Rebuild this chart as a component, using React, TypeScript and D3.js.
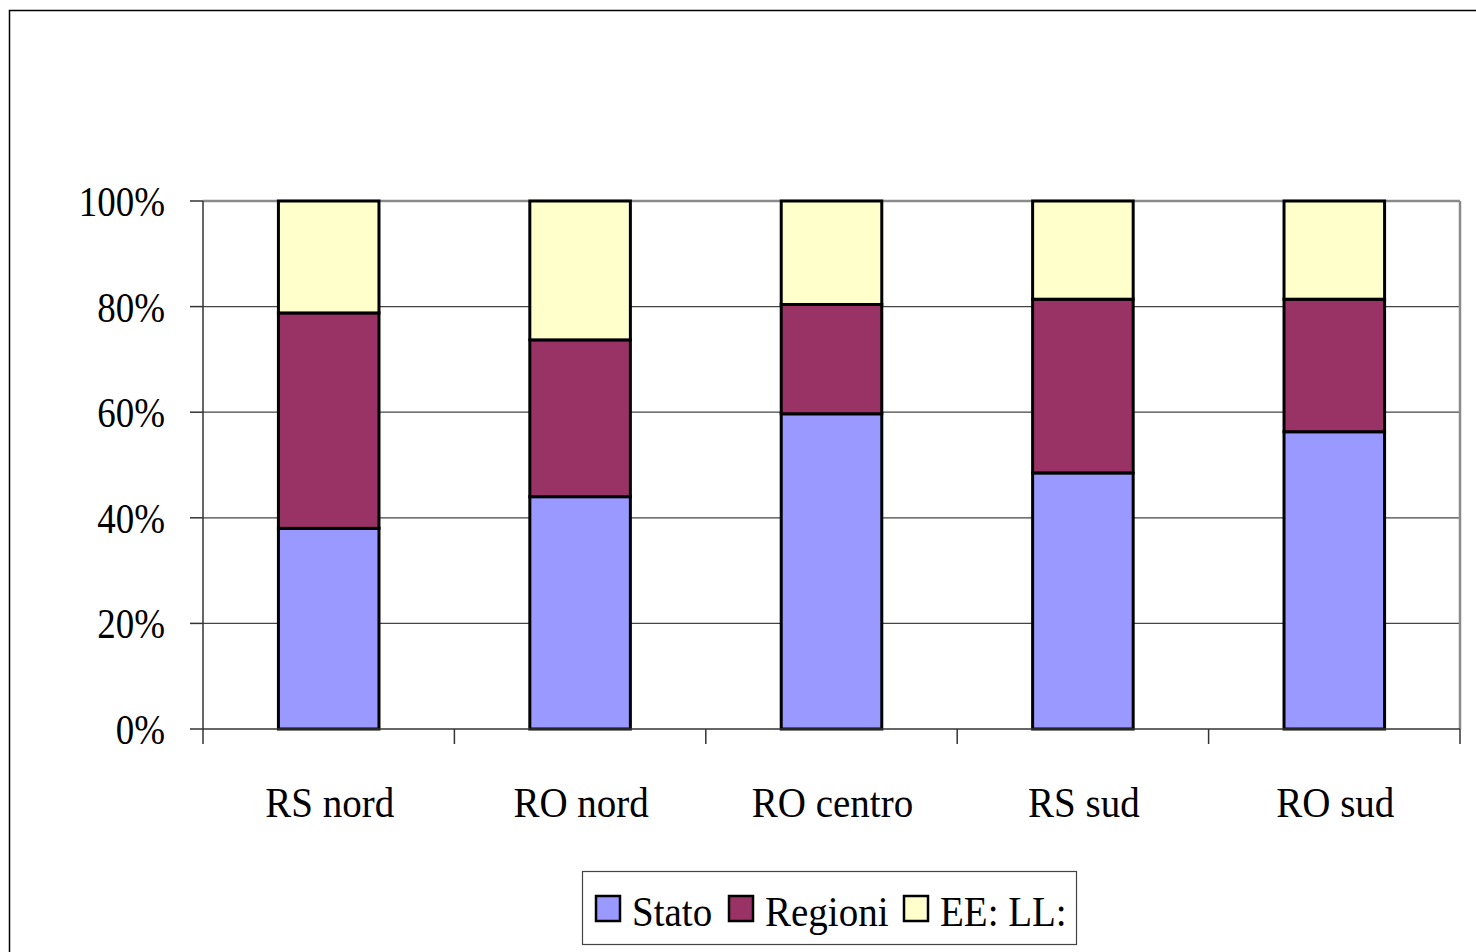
import * as d3 from "d3";

const categories = ["RS nord", "RO nord", "RO centro", "RS sud", "RO sud"];
const seriesNames = ["Stato", "Regioni", "EE: LL:"];
const stato = [38.0, 44.0, 59.7, 48.5, 56.3];
const regioni = [40.8, 29.7, 20.7, 32.9, 25.1];
const eell = [21.2, 26.3, 19.6, 18.6, 18.6];
const yTicks = [0, 20, 40, 60, 80, 100];
const colors = ["#9999FF", "#993366", "#FFFFCC"];

const W = 1476;
const H = 952;
const plot = { left: 203, right: 1460, top: 201, bottom: 729 };
const font = "'Liberation Serif', 'Times New Roman', serif";
const sy = 1.08; // text in the original is a bit stretched vertically

export default function App() {
  const rows = categories.map((c, i) => ({
    cat: c,
    Stato: stato[i],
    Regioni: regioni[i],
    "EE: LL:": eell[i],
  }));
  const stack = d3.stack<any>().keys(seriesNames)(rows);

  const x = d3
    .scaleBand()
    .domain(categories)
    .range([plot.left, plot.right])
    .paddingInner(0.6)
    .paddingOuter(0.3);
  const y = d3.scaleLinear().domain([0, 100]).range([plot.bottom, plot.top]);
  const step = x.step();
  const xTickPos = d3.range(categories.length + 1).map((i) => plot.left + i * step);

  return (
    <svg
      width={W}
      height={H}
      style={{ position: "absolute", left: 0, top: 0, background: "#fff" }}
    >
      <rect x={9.5} y={10.5} width={1480} height={960} fill="none" stroke="#000" strokeWidth={1.5} />

      {/* gridlines */}
      {yTicks.slice(1, -1).map((t) => (
        <line key={t} x1={plot.left} x2={plot.right} y1={y(t)} y2={y(t)} stroke="#444" strokeWidth={1.2} />
      ))}
      {/* plot area border top/right */}
      <line x1={plot.left} x2={plot.right} y1={plot.top} y2={plot.top} stroke="#8a8a8a" strokeWidth={2.5} />
      <line x1={plot.right} x2={plot.right} y1={plot.top} y2={plot.bottom} stroke="#8a8a8a" strokeWidth={2.5} />

      {/* bars */}
      {stack.map((s, si) => (
        <g key={s.key}>
          {s.map((d, i) => (
            <rect
              key={i}
              x={x(categories[i])}
              y={y(d[1])}
              width={x.bandwidth()}
              height={y(d[0]) - y(d[1])}
              fill={colors[si]}
              stroke="#000"
              strokeWidth={3}
            />
          ))}
        </g>
      ))}

      {/* y axis */}
      <line x1={plot.left} x2={plot.left} y1={plot.top} y2={plot.bottom} stroke="#333" strokeWidth={1.5} />
      {yTicks.map((t) => (
        <g key={t}>
          <line x1={plot.left - 13} x2={plot.left} y1={y(t)} y2={y(t)} stroke="#333" strokeWidth={1.5} />
          <text
            transform={`translate(165,${y(t) + 15}) scale(1,1.12)`}
            textAnchor="end"
            fontFamily={font}
            fontSize={37}
            fill="#000"
          >
            {t}%
          </text>
        </g>
      ))}

      {/* x axis */}
      <line x1={plot.left} x2={plot.right} y1={plot.bottom} y2={plot.bottom} stroke="#333" strokeWidth={1.5} />
      {xTickPos.map((p, i) => (
        <line key={i} x1={p} x2={p} y1={plot.bottom} y2={plot.bottom + 15} stroke="#333" strokeWidth={1.5} />
      ))}
      {categories.map((c) => (
        <text
          key={c}
          transform={`translate(${(x(c) as number) + x.bandwidth() / 2 + 1},817) scale(1,${sy})`}
          textAnchor="middle"
          fontFamily={font}
          fontSize={39}
          fill="#000"
        >
          {c}
        </text>
      ))}

      {/* legend */}
      <g>
        <rect x={582.5} y={871.5} width={494} height={73} fill="#fff" stroke="#444" strokeWidth={1.2} />
        {seriesNames.map((n, i) => {
          const xs = [596, 729, 904][i];
          return (
            <g key={n}>
              <rect x={xs} y={896} width={24} height={25} fill={colors[i]} stroke="#000" strokeWidth={2.5} />
              <text
                transform={`translate(${xs + 36},926) scale(1,${sy})`}
                fontFamily={font}
                fontSize={39}
                fill="#000"
              >
                {n}
              </text>
            </g>
          );
        })}
      </g>
    </svg>
  );
}
